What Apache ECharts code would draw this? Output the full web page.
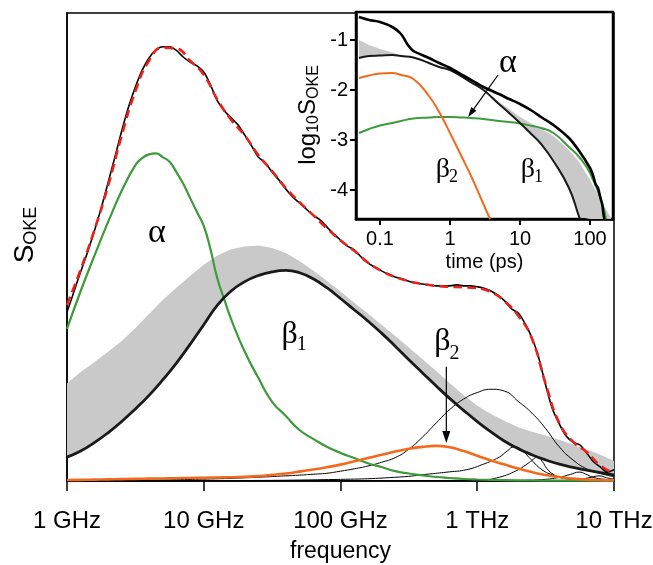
<!DOCTYPE html>
<html>
<head>
<meta charset="utf-8">
<script src="https://cdn.jsdelivr.net/npm/echarts@6/dist/echarts.min.js"></script>
<style>
  html, body { margin: 0; padding: 0; background: #fff; }
  #chart { width: 653px; height: 565px; }
</style>
</head>
<body>
<div id="chart"></div>
<script>
// ---------- main panel: OKE spectrum vs frequency (GHz), arbitrary units ----------
const freqGHz = [1, 1.259, 1.585, 1.995, 2.512, 3.162, 3.981, 5.012, 6.310, 7.943,
  10, 12.59, 15.85, 19.95, 25.12, 31.62, 39.81, 50.12, 63.10, 79.43,
  100, 125.9, 158.5, 199.5, 251.2, 316.2, 398.1, 501.2, 631.0, 794.3,
  1000, 1259, 1585, 1995, 2512, 3162, 3981, 5012, 6310, 7943, 10000];

const measFreqGHz = [1, 1.122, 1.259, 1.413, 1.585, 1.778, 1.995, 2.239, 2.512, 2.818,
  3.162, 3.548, 3.981, 4.467, 5.012, 5.623, 6.310, 7.079, 7.943, 8.913,
  10, 11.22, 12.59, 14.13, 15.85, 17.78, 19.95, 22.39, 25.12, 28.18,
  31.62, 35.48, 39.81, 44.67, 50.12, 56.23, 63.10, 70.79, 79.43, 89.13,
  100, 112.2, 125.9, 141.3, 158.5, 177.8, 199.5, 223.9, 251.2, 281.8,
  316.2, 354.8, 398.1, 446.7, 501.2, 562.3, 631.0, 707.9, 794.3, 891.3,
  1000, 1122, 1259, 1413, 1585, 1778, 1995, 2239, 2512, 2818,
  3162, 3548, 3981, 4467, 5012, 5623, 6310, 7079, 7943, 8913, 10000];

const measured = [36.1, 40.4, 44.7, 48.9, 53.4, 58.3, 63.7, 69.2, 74.8, 79.9,
  84.2, 87.8, 90.4, 92.1, 92.8, 92.8, 92.0, 90.6, 89.5, 88.7,
  87.4, 84.6, 81.2, 79.1, 77.6, 76.1, 73.9, 71.6, 69.2, 68.0,
  66.0, 64.3, 62.4, 60.7, 59.4, 58.1, 56.8, 55.8, 54.3, 52.8,
  51.5, 50.2, 49.4, 47.9, 46.6, 45.7, 44.9, 44.2, 43.6, 43.2,
  42.7, 42.3, 42.1, 41.9, 41.7, 41.7, 41.7, 41.9, 41.7, 41.7,
  41.5, 41.2, 40.6, 39.7, 38.5, 36.8, 35.9, 33.6, 30.6, 26.3,
  20.5, 15.4, 12.2, 9.6, 8.3, 7.7, 6.0, 4.1, 3.0, 1.9, 2.4];

const fitTotal = [37.6, 45.2, 53.6, 63.0, 73.8, 83.3, 89.8, 92.6, 92.4, 89.8,
  86.8, 81.5, 77.2, 73.8, 69.6, 66.2, 62.6, 59.6, 56.8, 54.0,
  51.4, 49.2, 46.7, 44.9, 43.6, 42.7, 42.1, 41.7, 41.5, 41.4,
  41.2, 40.4, 38.4, 35.3, 30.4, 20.8, 12.4, 8.4, 6.2, 3.3, 1.6];

// alpha relaxation, sampled more densely around its peak
const alphaFreq = [1, 1.259, 1.585, 1.995, 2.512, 3.162, 3.548, 3.981, 4.467, 5.012,
  5.623, 6.310, 7.079, 7.943, 8.913, 10, 11.22, 12.59, 14.13, 15.85, 19.95, 25.12, 31.62, 39.81, 50.12, 63.10, 79.43,
  100, 125.9, 158.5, 199.5, 251.2, 316.2, 398.1, 501.2, 631.0, 794.3,
  1000, 1585, 2512, 3981, 6310, 10000];
const alphaBand = [32.5, 40.6, 48.1, 55.3, 62.0, 67.5, 69.0, 69.8, 70.0, 69.2,
  68.2, 66.0, 63.5, 60.5, 57.5, 54.5, 49.4, 43.2, 38.8, 34.6, 27.6, 22.0, 16.9, 13.9, 10.9, 9.0, 7.3,
  6.0, 4.9, 3.8, 3.0, 2.1, 1.6, 1.2, 0.85, 0.64, 0.43,
  0.32, 0.2, 0.12, 0.08, 0.05, 0.03];

const beta1Band = [5.1, 6.4, 8.2, 10.3, 12.7, 15.4, 18.3, 21.6, 25.2, 29.2,
  33.4, 37.6, 40.6, 42.6, 43.9, 44.7, 45.0, 44.5, 43.2, 41.3,
  39.0, 36.6, 34.2, 31.6, 28.8, 25.9, 23.1, 20.3, 17.6, 15.1,
  12.7, 10.5, 8.5, 6.9, 5.6, 4.5, 3.6, 2.9, 2.3, 1.8, 1.3];

// upper edge of the grey beta1 range
const beta1Upper = [20.9, 23.3, 25.4, 27.6, 29.9, 32.7, 35.7, 38.7, 41.3, 43.8,
  46.2, 48.2, 49.5, 50.1, 50.3, 49.8, 48.7, 47.0, 45.0, 42.8,
  40.5, 38.1, 35.8, 33.4, 31.0, 28.5, 26.0, 23.5, 20.9, 18.3,
  16.1, 14.3, 12.8, 11.5, 10.5, 9.7, 8.8, 7.8, 6.8, 5.6, 4.3];

const beta2Band = [0.2, 0.25, 0.3, 0.35, 0.4, 0.45, 0.5, 0.55, 0.6, 0.65,
  0.7, 0.75, 0.8, 0.9, 1.05, 1.3, 1.6, 2.0, 2.45, 2.95,
  3.5, 4.2, 4.9, 5.6, 6.3, 6.9, 7.3, 7.5, 7.2, 6.4,
  5.4, 4.4, 3.5, 2.65, 1.9, 1.3, 0.85, 0.5, 0.3, 0.2, 0.15];

// intermolecular / librational modes (thin lines)
const mode1 = [0.05, 0.06, 0.08, 0.1, 0.12, 0.15, 0.18, 0.22, 0.27, 0.33,
  0.4, 0.48, 0.57, 0.68, 0.8, 0.95, 1.1, 1.25, 1.45, 1.65,
  2.1, 2.6, 3.2, 4.0, 5.0, 6.8, 9.4, 12.4, 15.3, 17.5,
  18.9, 19.6, 19.2, 17.0, 14.5, 11.2, 7.3, 4.5, 2.6, 1.6, 0.9];
const mode2Freq = [1, 10, 100, 270, 447, 625, 831, 1088, 1448, 1656, 1862, 2094, 2398, 2981, 3648, 4467, 6577, 10000];
const mode2 = [0.02, 0.08, 0.35, 0.85, 1.5, 1.95, 2.4, 3.5, 5.1, 6.4, 7.3, 6.8, 5.0, 2.4, 1.2, 0.6, 0.25, 0.1];
const mode3Freq = [1, 100, 500, 1088, 1448, 1928, 2280, 2518, 2742, 2981, 3243, 3648, 4169, 5555, 10000];
const mode3 = [0.01, 0.04, 0.1, 0.25, 0.8, 2.2, 3.5, 4.4, 5.1, 4.2, 2.6, 1.3, 0.65, 0.3, 0.1];
const mode4Freq = [2000, 3000, 4000, 4800, 5555, 6200, 7000, 8500, 10000];
const mode4 = [0.1, 0.3, 0.8, 1.4, 1.9, 1.5, 0.8, 0.35, 0.2];
const mode5Freq = [4000, 5500, 6800, 7780, 8800, 10000];
const mode5 = [0.1, 0.3, 0.8, 1.1, 0.7, 0.4];

const freqTickLabels = ['1 GHz', '10 GHz', '100 GHz', '1 THz', '10 THz'];

// ---------- inset: log10 S_OKE vs time (ps) ----------
const insetTotalT = [0.05, 0.07, 0.1, 0.15, 0.2, 0.25, 0.3, 0.4, 0.5, 0.7, 1, 1.5, 2, 3, 5, 7, 10, 15, 20, 30, 50, 70, 100, 110, 120, 130, 140, 150, 155, 160];
const insetTotal = [-0.54, -0.60, -0.64, -0.74, -0.88, -1.10, -1.22, -1.30, -1.36, -1.46, -1.56, -1.70, -1.80, -1.94, -2.08, -2.18, -2.28, -2.42, -2.54, -2.70, -2.96, -3.22, -3.56, -3.70, -3.88, -3.96, -4.14, -4.30, -4.46, -4.58];

const insetBeta1T = [0.05, 0.07, 0.1, 0.15, 0.2, 0.3, 0.5, 0.7, 1, 1.5, 2, 3, 5, 7, 10, 15, 20, 30, 50, 70, 72];
const insetBeta1 = [-1.36, -1.32, -1.31, -1.30, -1.32, -1.35, -1.46, -1.54, -1.60, -1.74, -1.85, -2.00, -2.28, -2.46, -2.66, -2.90, -3.08, -3.42, -3.96, -4.54, -4.58];

const insetBandT = [0.05, 0.07, 0.1, 0.15, 0.2, 0.3, 0.5, 0.7, 1, 1.5, 2, 3, 5, 7, 10, 15, 20, 30, 50, 70, 100, 150, 200];
const insetBandLow = [-1.36, -1.32, -1.31, -1.30, -1.32, -1.35, -1.46, -1.54, -1.60, -1.74, -1.85, -2.00, -2.28, -2.46, -2.66, -2.90, -3.08, -3.42, -3.96, -4.54, -4.58, -4.58, -4.58];
const insetBandHigh = [-1.00, -1.10, -1.18, -1.25, -1.31, -1.35, -1.46, -1.54, -1.60, -1.74, -1.85, -2.00, -2.24, -2.38, -2.54, -2.68, -2.78, -2.92, -3.20, -3.44, -3.80, -4.26, -4.56];

const insetBeta2T = [0.05, 0.07, 0.1, 0.15, 0.2, 0.3, 0.5, 0.7, 1, 1.5, 2, 3, 3.73];
const insetBeta2 = [-1.76, -1.71, -1.67, -1.66, -1.70, -1.78, -2.12, -2.44, -2.86, -3.36, -3.72, -4.28, -4.58];

const insetAlphaT = [0.05, 0.07, 0.1, 0.15, 0.2, 0.3, 0.5, 0.7, 1, 1.5, 2, 3, 5, 7, 10, 15, 20, 30, 50, 70, 100, 150, 169];
const insetAlpha = [-2.86, -2.78, -2.71, -2.66, -2.62, -2.57, -2.55, -2.54, -2.54, -2.55, -2.56, -2.58, -2.62, -2.64, -2.67, -2.72, -2.76, -2.86, -3.14, -3.34, -3.66, -4.28, -4.58];

const timeTickValues = [0.1, 1, 10, 100];
const timeTickLabels = ['0.1', '1', '10', '100'];
const logTickValues = [-1, -2, -3, -4];

// ---------- styling ----------
const SANS = '"Liberation Sans", Arial, Helvetica, sans-serif';
const SERIF = '"Liberation Serif", "Times New Roman", serif';
const GREEN = '#3f9a3c';
const ORANGE = '#f26a1e';
const RED = '#e8231c';
const GREY = '#c9c9c9';

const pairs = (xs, ys) => xs.map((x, i) => [x, ys[i]]);

function curve(name, xs, ys, color, width, grid, extra) {
  return Object.assign({
    name, type: 'line', xAxisIndex: grid, yAxisIndex: grid,
    data: pairs(xs, ys), symbol: 'none', smooth: 0.5, silent: true,
    lineStyle: { color, width }
  }, extra || {});
}

// filled region between a lower and an upper edge, drawn through the axes
function rangeBand(name, xs, lo, hi, grid) {
  return {
    name, type: 'custom', xAxisIndex: grid, yAxisIndex: grid, silent: true, clip: true,
    data: [[xs[0], lo[0]]],
    renderItem: (params, api) => {
      const top = xs.map((x, i) => api.coord([x, hi[i]]));
      const bottom = xs.map((x, i) => api.coord([x, lo[i]])).reverse();
      return { type: 'polygon', shape: { points: top.concat(bottom) }, style: { fill: GREY } };
    }
  };
}

const chart = echarts.init(document.getElementById('chart'), null, { renderer: 'canvas' });

const option = {
  animation: false,
  backgroundColor: '#fff',
  grid: [
    { left: 67, top: 13, right: 39, bottom: 84, show: true, borderColor: '#000', borderWidth: 1.5,
      containLabel: false, outerBoundsMode: 'none' },
    { left: 356, top: 12, right: 40, bottom: 346, show: true, backgroundColor: '#fff',
      borderColor: '#000', borderWidth: 2.5, containLabel: false, outerBoundsMode: 'none' }
  ],
  xAxis: [
    {
      type: 'log', logBase: 10, gridIndex: 0, min: 1, max: 10000,
      axisLine: { show: true, lineStyle: { color: '#000', width: 1.5 } },
      axisTick: { show: true, inside: false, length: 10, lineStyle: { color: '#000', width: 1.5 } },
      minorTick: { show: false },
      splitLine: { show: false },
      axisLabel: {
        color: '#000', fontFamily: SANS, fontSize: 24, margin: 28,
        formatter: v => freqTickLabels[Math.round(Math.log10(v))]
      },
      name: 'frequency', nameLocation: 'middle', nameGap: 59,
      nameTextStyle: { color: '#000', fontFamily: SANS, fontSize: 23 }
    },
    {
      type: 'log', logBase: 10, gridIndex: 1, min: 0.0454, max: 213,
      axisLine: { show: true, lineStyle: { color: '#000', width: 2.5 } },
      axisTick: { show: true, inside: false, length: 6, customValues: timeTickValues,
        lineStyle: { color: '#000', width: 2 } },
      minorTick: { show: false },
      splitLine: { show: false },
      axisLabel: {
        color: '#000', fontFamily: SANS, fontSize: 20, margin: 10, customValues: timeTickValues,
        formatter: v => timeTickLabels[timeTickValues.findIndex(t => Math.abs(Math.log10(t) - Math.log10(v)) < 1e-6)]
      },
      name: 'time (ps)', nameLocation: 'middle', nameGap: 33,
      nameTextStyle: { color: '#000', fontFamily: SANS, fontSize: 20 }
    }
  ],
  yAxis: [
    {
      type: 'value', gridIndex: 0, min: 0, max: 100,
      axisLine: { show: true, lineStyle: { color: '#000', width: 1.5 } },
      axisTick: { show: false }, axisLabel: { show: false }, splitLine: { show: false }
    },
    {
      type: 'value', gridIndex: 1, min: -4.58, max: -0.44,
      axisLine: { show: true, lineStyle: { color: '#000', width: 2.5 } },
      axisTick: { show: true, inside: false, length: 6, customValues: logTickValues,
        lineStyle: { color: '#000', width: 2 } },
      splitLine: { show: false },
      axisLabel: { color: '#000', fontFamily: SANS, fontSize: 20, margin: 8, customValues: logTickValues,
        formatter: v => String(v) }
    }
  ],
  series: [
    rangeBand('beta1 range', freqGHz, beta1Band, beta1Upper, 0),
    curve('mode 1', freqGHz, mode1, '#000', 1, 0),
    curve('mode 2', mode2Freq, mode2, '#000', 1, 0),
    curve('mode 3', mode3Freq, mode3, '#000', 1, 0),
    curve('mode 4', mode4Freq, mode4, '#000', 1, 0),
    curve('mode 5', mode5Freq, mode5, '#000', 1, 0),
    curve('alpha', alphaFreq, alphaBand, GREEN, 2.2, 0),
    curve('beta2', freqGHz, beta2Band, ORANGE, 2.6, 0),
    curve('beta1', freqGHz, beta1Band, '#1a1a1a', 2.8, 0),
    curve('measured', measFreqGHz, measured, '#000', 1.6, 0, { smooth: 0.3 }),
    curve('fit', freqGHz, fitTotal, RED, 2.6, 0, { lineStyle: { color: RED, width: 2.6, type: [9, 5] } }),

    // inset
    rangeBand('inset range', insetBandT, insetBandLow, insetBandHigh, 1),
    curve('inset alpha', insetAlphaT, insetAlpha, GREEN, 2, 1),
    curve('inset beta2', insetBeta2T, insetBeta2, ORANGE, 2, 1),
    curve('inset beta1', insetBeta1T, insetBeta1, '#1a1a1a', 2, 1),
    curve('inset total', insetTotalT, insetTotal, '#000', 2.6, 1, { smooth: 0.3 })
  ]
};
chart.setOption(option);

// ---------- annotations placed through the axes ----------
const ctx = document.createElement('canvas').getContext('2d');
function textWidth(str, size, family) { ctx.font = size + 'px ' + family; return ctx.measureText(str).width; }

function textEl(text, x, y, size, family, align) {
  return { type: 'text', x, y, z: 100,
    style: { text, font: size + 'px ' + family, fill: '#000',
      align: align || 'left', verticalAlign: 'middle', textAlign: align || 'left', textVerticalAlign: 'middle' } };
}

// a run of text pieces laid out along one line, centred on the group origin
function textRun(pieces, family) {
  const widths = pieces.map(p => textWidth(p.text, p.size, family));
  let x = -widths.reduce((a, b) => a + b, 0) / 2;
  return pieces.map((p, i) => { const el = textEl(p.text, x, p.dy, p.size, family); x += widths[i]; return el; });
}

const toPx = (grid, pt) => chart.convertToPixel({ gridIndex: grid }, pt);

const greekLabels = [
  { grid: 0, at: [4.54, 53], glyph: 'α', sub: '', size: 34, subSize: 0 },
  { grid: 0, at: [42.4, 31.2], glyph: 'β', sub: '1', size: 32, subSize: 20, dy: 10 },
  { grid: 0, at: [555, 29.7], glyph: 'β', sub: '2', size: 32, subSize: 20, dy: 12 },
  { grid: 1, at: [6.74, -1.46], glyph: 'α', sub: '', size: 34, subSize: 0 },
  { grid: 1, at: [0.79, -3.6], glyph: 'β', sub: '2', size: 28, subSize: 18, dy: 7 },
  { grid: 1, at: [13, -3.6], glyph: 'β', sub: '1', size: 28, subSize: 18, dy: 7 }
];

const arrows = [
  { grid: 0, from: [594, 24.4], to: [594, 8.1], head: 12, half: 4 },
  { grid: 1, from: [4.85, -1.70], to: [1.81, -2.54], head: 10, half: 3.2 }
];

const graphics = [];
greekLabels.forEach(l => {
  const p = toPx(l.grid, l.at);
  const children = [textEl(l.glyph, 0, 0, l.size, SERIF, 'center')];
  if (l.sub) children.push(textEl(l.sub, textWidth(l.glyph, l.size, SERIF) / 2 - 1, l.dy, l.subSize, SERIF));
  graphics.push({ type: 'group', x: p[0], y: p[1], children });
});

arrows.forEach(a => {
  const p0 = toPx(a.grid, a.from), p1 = toPx(a.grid, a.to);
  const dx = p1[0] - p0[0], dy = p1[1] - p0[1], len = Math.hypot(dx, dy);
  const ux = dx / len, uy = dy / len;
  const bx = p1[0] - ux * a.head, by = p1[1] - uy * a.head;
  graphics.push({ type: 'line', z: 100, shape: { x1: p0[0], y1: p0[1], x2: bx, y2: by },
    style: { stroke: '#000', lineWidth: 1.2 } });
  graphics.push({ type: 'polygon', z: 100,
    shape: { points: [[p1[0], p1[1]], [bx - uy * a.half, by + ux * a.half], [bx + uy * a.half, by - ux * a.half]] },
    style: { fill: '#000' } });
});

// rotated axis titles with subscripts
graphics.push({ type: 'group', x: 25, y: 235, rotation: Math.PI / 2,
  children: textRun([{ text: 'S', size: 28, dy: 0 }, { text: 'OKE', size: 18, dy: 6 }], SANS) });
graphics.push({ type: 'group', x: 308, y: 115, rotation: Math.PI / 2,
  children: textRun([{ text: 'log', size: 24, dy: 0 }, { text: '10', size: 16, dy: 6 },
    { text: 'S', size: 24, dy: 0 }, { text: 'OKE', size: 16, dy: 6 }], SANS) });

chart.setOption({ graphic: graphics });
</script>
</body>
</html>
